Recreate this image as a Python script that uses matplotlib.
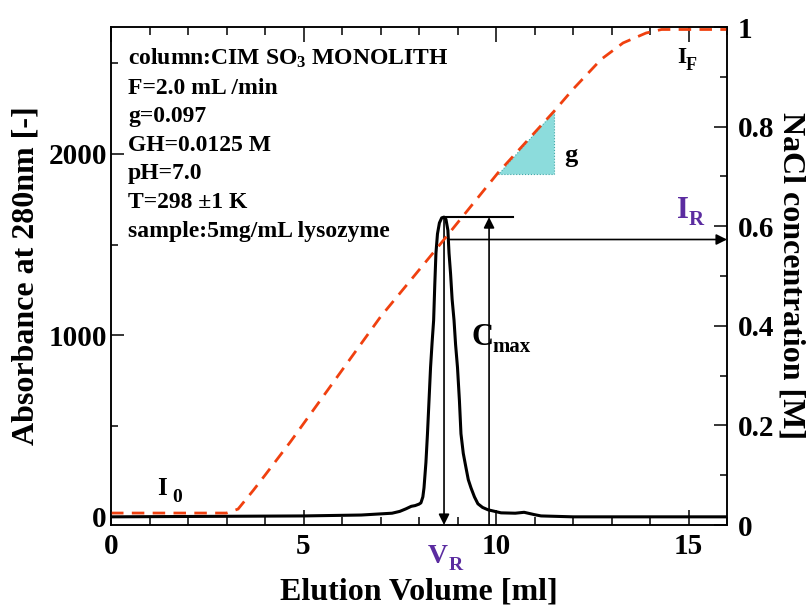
import matplotlib
matplotlib.use('Agg')
import matplotlib.pyplot as plt
import numpy as np
from matplotlib.patches import Polygon

# ---------------- data ----------------
abs_x = [0, 5.0, 6.5, 7.3, 7.5, 7.66, 7.8, 7.9, 8.0, 8.05, 8.1, 8.13, 8.18,
         8.22, 8.26, 8.30, 8.34, 8.38, 8.41, 8.44, 8.48, 8.53, 8.59, 8.65,
         8.70, 8.75, 8.78, 8.82, 8.86, 8.91, 8.95, 9.0, 9.05, 9.09, 9.15,
         9.22, 9.28, 9.35, 9.44, 9.53, 9.65, 9.79, 10.13, 10.5, 10.73, 11.0,
         11.17, 12.0, 16.0]
abs_y = [0, 5, 10, 20, 30, 44, 58, 62, 70, 77, 110, 160, 300,
         458, 640, 823, 960, 1083, 1280, 1453, 1560, 1620, 1648, 1652,
         1640, 1580, 1453, 1340, 1200, 1083, 950, 823, 640, 458, 350,
         271, 205, 160, 110, 72, 52, 39, 22, 20, 25, 12,
         5, 0, 0]

grad_x = [0, 3.0, 3.3, 3.7, 4.0, 4.66, 7.0, 8.49, 10.05, 11.51, 12.0, 12.73,
          13.3, 13.9, 14.3, 16.0]
grad_y = [0.024, 0.024, 0.032, 0.07, 0.10, 0.167, 0.418, 0.558, 0.707, 0.831,
          0.875, 0.935, 0.968, 0.988, 0.995, 0.995]

tri_x = [10.05, 11.51, 11.51]
tri_y = [0.705, 0.705, 0.831]

cmax_arrow_x = 9.82
cmax_line_end = 10.44

info_lines = ["column:CIM SO$_3$ MONOLITH", "F=2.0 mL /min", "g=0.097",
              "GH=0.0125 M", "pH=7.0", "T=298 \u00b11 K",
              "sample:5mg/mL lysozyme"]

x_major = [0, 5, 10, 15]
y_left_major = [0, 1000, 2000]
y_right_major = [0, 0.2, 0.4, 0.6, 0.8, 1.0]
y_right_labels = ["0", "0.2", "0.4", "0.6", "0.8", "1"]

# ---------------- style ----------------
plt.rcParams['font.family'] = ['Liberation Serif', 'DejaVu Serif']
plt.rcParams['font.weight'] = 'bold'
plt.rcParams['mathtext.fontset'] = 'custom'
plt.rcParams['mathtext.rm'] = 'Liberation Serif:bold'
plt.rcParams['mathtext.it'] = 'Liberation Serif:bold'
plt.rcParams['mathtext.bf'] = 'Liberation Serif:bold'

W, H = 808, 612
fig = plt.figure(figsize=(W / 100, H / 100), dpi=100)
ax = fig.add_axes([111 / W, 87 / H, 616 / W, 498 / H])
ax2 = ax.twinx()

purple = '#5b2ca0'
red = '#f0400f'

# absorbance
ax.plot(abs_x, abs_y, color='black', lw=2.2, zorder=3, solid_joinstyle='round')
ax.set_xlim(0, 16)
ax.set_ylim(-45, 2700)

# gradient
ax2.plot(grad_x, grad_y, color=red, lw=2.0, linestyle=(0, (4.5, 3.0)), zorder=2)
ax2.set_ylim(0, 1.0)

# triangle
ax2.add_patch(Polygon(list(zip(tri_x, tri_y)), closed=True, facecolor='#8cdcdc',
                      edgecolor='#40a8a8', lw=0.8, linestyle=':', zorder=1))

# ticks
for a in (ax, ax2):
    for s in a.spines.values():
        s.set_linewidth(1.1)

ax.set_xticks(x_major)
ax.set_xticks(np.arange(0, 17, 1), minor=True)
ax.set_yticks(y_left_major)
ax.set_yticks(np.arange(0, 2701, 500), minor=True)
ax.tick_params(axis='x', which='both', direction='in', top=True, bottom=True,
               labelsize=21, pad=6, width=1.1)
ax.tick_params(axis='x', which='major', length=10.5)
ax.tick_params(axis='x', which='minor', length=5.5)
ax.tick_params(axis='y', which='both', direction='in', right=False,
               labelsize=21, pad=3, width=1.1)
ax.tick_params(axis='y', which='major', length=9)
ax.tick_params(axis='y', which='minor', length=5)

ax2.set_yticks(y_right_major)
ax2.set_yticklabels(y_right_labels)
ax2.set_yticks(np.arange(0, 1.01, 0.1), minor=True)
ax2.tick_params(axis='y', which='both', direction='in', left=False,
                labelsize=21, pad=8, width=1.1)
ax2.tick_params(axis='y', which='major', length=9.5)
ax2.tick_params(axis='y', which='minor', length=5)

for lab in ax.get_xticklabels() + ax.get_yticklabels() + ax2.get_yticklabels():
    lab.set_fontweight('bold')

ax.set_xlabel('Elution Volume [ml]', fontsize=23, fontweight='bold', labelpad=12)
ax.set_ylabel('Absorbance at 280nm [-]', fontsize=23, fontweight='bold', labelpad=6)
ax2.set_ylabel('NaCl concentration [M]', fontsize=23, fontweight='bold',
               rotation=270, labelpad=22)

# derived values
imax = int(np.argmax(abs_y))
VR = abs_x[imax]
Cmax = abs_y[imax]
IR = float(np.interp(VR, grad_x, grad_y))
ymin = ax.get_ylim()[0]

arrow_kw = dict(arrowstyle='-|>', color='black', lw=1.2, mutation_scale=16,
                shrinkA=0, shrinkB=0)

# V_R arrow (down)
ax.annotate('', xy=(VR, ymin), xytext=(VR, Cmax), arrowprops=arrow_kw, zorder=4)
# C_max arrow (up) and horizontal line
ax.annotate('', xy=(cmax_arrow_x, Cmax), xytext=(cmax_arrow_x, ymin),
            arrowprops=arrow_kw, zorder=4)
ax.plot([VR, cmax_line_end], [Cmax, Cmax], color='black', lw=1.5, zorder=4)
# I_R arrow (right)
ax2.annotate('', xy=(16, IR), xytext=(VR + 0.1, IR), arrowprops=arrow_kw, zorder=4)

# info block
for i, line in enumerate(info_lines):
    fig.text(128 / W, 1 - (65 + 28.6 * i) / H, line, fontsize=17,
             fontweight='bold', ha='left', va='baseline')

def label_sub(px, py, main, sub, size, subsize, spx, spy, color='black'):
    fig.text(px / W, 1 - py / H, main, fontsize=size, fontweight='bold',
             color=color, ha='left', va='baseline')
    fig.text(spx / W, 1 - spy / H, sub, fontsize=subsize, fontweight='bold',
             color=color, ha='left', va='baseline')

label_sub(157, 495, 'I', '0', 18, 14, 172, 502)
label_sub(677, 63, 'I', 'F', 17, 13, 686, 70)
label_sub(677, 218, 'I', 'R', 22, 15, 689, 225, color=purple)
label_sub(428, 563, 'V', 'R', 20, 14, 449, 570, color=purple)
label_sub(472, 345, 'C', 'max', 22, 15, 492, 352)
fig.text(564 / W, 1 - 162 / H, 'g', fontsize=19, fontweight='bold',
         ha='left', va='baseline')

fig.savefig('out.png', dpi=100)
